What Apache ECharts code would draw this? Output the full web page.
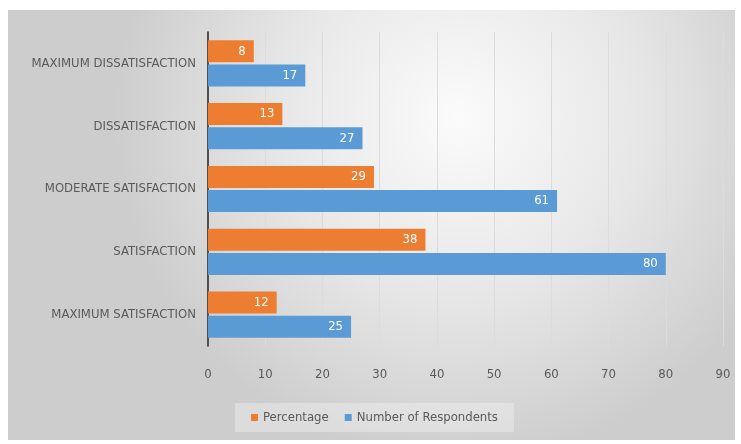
<!DOCTYPE html>
<html><head><meta charset="utf-8">
<script src="https://cdn.jsdelivr.net/npm/echarts@6/dist/echarts.min.js"></script>
<style>html,body{margin:0;padding:0;background:#fff}#c{width:741px;height:444px}</style>
</head><body><div id="c"></div>
<script>
const categories = ['MAXIMUM DISSATISFACTION','DISSATISFACTION','MODERATE SATISFACTION','SATISFACTION','MAXIMUM SATISFACTION'];
const percentage = [8, 13, 29, 38, 12];
const respondents = [17, 27, 61, 80, 25];
const seriesNames = ['Percentage','Number of Respondents'];
const FONT = "'Liberation Sans Narrow','DejaVu Sans Condensed','Liberation Sans',sans-serif";
const chart = echarts.init(document.getElementById('c'));
chart.setOption({
  animation: false,
  graphic: [{
    type: 'rect', z: -10, silent: true,
    shape: {x: 8, y: 10, width: 727, height: 430},
    style: {fill: new echarts.graphic.RadialGradient(0.62, 0.25, 0.8, [
      {offset: 0, color: '#fbfbfb'}, {offset: 0.5, color: '#e8e8e8'}, {offset: 1, color: '#cdcdcd'}])}
  }],
  grid: {left: 208, right: 18, top: 32, bottom: 98, containLabel: false},
  legend: {
    data: seriesNames, bottom: 12, left: 235, itemWidth: 7, itemHeight: 7, itemGap: 16,
    icon: 'rect', backgroundColor: 'rgba(255,255,255,0.3)', padding: [8, 16],
    textStyle: {color: '#595959', fontFamily: FONT, fontSize: 13}
  },
  xAxis: {
    type: 'value', min: 0, max: 90, interval: 10,
    axisLine: {show: false}, axisTick: {show: false},
    splitLine: {lineStyle: {color: '#dcdcdc'}},
    axisLabel: {color: '#595959', fontFamily: FONT, fontSize: 13, margin: 22}
  },
  yAxis: {
    type: 'category', data: categories, inverse: true,
    axisLine: {lineStyle: {color: '#222', width: 1.5}}, axisTick: {show: false},
    axisLabel: {color: '#595959', fontFamily: FONT, fontSize: 13, margin: 12}
  },
  series: [
    {name: seriesNames[0], type: 'bar', data: percentage, barWidth: 22, barGap: '10%',
     itemStyle: {color: '#ED7D31'},
     label: {show: true, position: 'insideRight', color: '#fff', fontFamily: FONT, fontSize: 13, distance: 8}},
    {name: seriesNames[1], type: 'bar', data: respondents, barWidth: 22, barGap: '10%',
     itemStyle: {color: '#5B9BD5'},
     label: {show: true, position: 'insideRight', color: '#fff', fontFamily: FONT, fontSize: 13, distance: 8}}
  ]
});
</script></body></html>
